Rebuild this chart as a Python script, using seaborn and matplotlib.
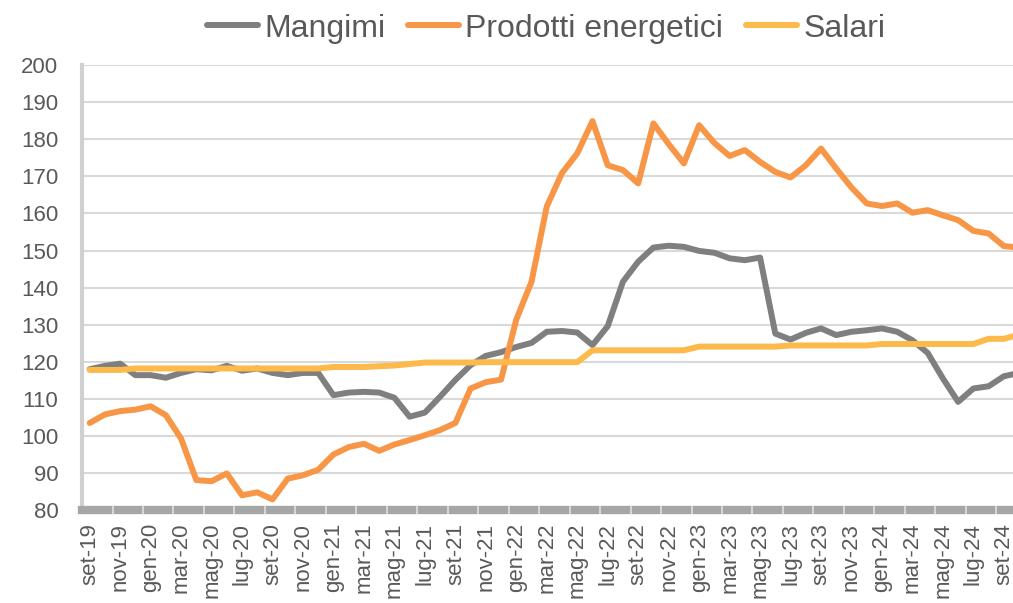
import numpy as np
import pandas as pd
import matplotlib
matplotlib.use("Agg")
import matplotlib.pyplot as plt
import seaborn as sns
from matplotlib.ticker import MultipleLocator

# months from set-19 to ott-24
mesi = ["gen", "feb", "mar", "apr", "mag", "giu", "lug", "ago", "set", "ott", "nov", "dic"]
months = [f"{mesi[(8 + k) % 12]}-{19 + (8 + k) // 12}" for k in range(62)]

mangimi = [118.0, 118.9, 119.5, 116.4, 116.4, 115.7, 117.0, 118.0, 117.7, 118.9,
           117.6, 118.2, 117.0, 116.4, 117.0, 117.0, 111.0, 111.7, 111.9, 111.7,
           110.3, 105.2, 106.3, 110.6, 115.1, 119.1, 121.6, 122.6, 124.0, 125.1,
           128.1, 128.3, 127.9, 124.5, 129.6, 141.6, 147.0, 150.8, 151.3, 151.0,
           149.9, 149.4, 147.9, 147.4, 148.1, 127.6, 126.0, 127.8, 129.0, 127.2,
           128.1, 128.5, 129.0, 128.1, 125.8, 122.4, 115.5, 109.2, 112.8, 113.4,
           116.1, 117.0]
energetici = [103.5, 105.8, 106.7, 107.1, 108.0, 105.6, 99.3, 88.1, 87.8, 89.9,
              84.0, 84.8, 82.9, 88.5, 89.4, 90.9, 95.0, 97.0, 97.9, 96.0,
              97.7, 98.9, 100.2, 101.6, 103.5, 112.8, 114.5, 115.2, 131.4, 141.6,
              161.9, 170.9, 176.2, 184.9, 173.0, 171.7, 168.1, 184.3, 178.7, 173.5,
              183.8, 179.0, 175.5, 177.1, 173.9, 171.2, 169.7, 173.0, 177.5, 172.1,
              167.0, 162.7, 162.0, 162.7, 160.2, 160.9, 159.5, 158.2, 155.3, 154.6,
              151.2, 150.8]
salari = [117.8, 117.8, 117.8, 118.2, 118.2, 118.2, 118.2, 118.2, 118.2, 118.2,
          118.2, 118.2, 118.2, 118.2, 118.2, 118.2, 118.6, 118.6, 118.6, 118.8,
          119.0, 119.4, 119.8, 119.8, 119.8, 119.8, 119.9, 119.9, 119.9, 119.9,
          119.9, 119.9, 119.9, 123.1, 123.1, 123.1, 123.1, 123.1, 123.1, 123.1,
          124.1, 124.1, 124.1, 124.1, 124.1, 124.1, 124.4, 124.4, 124.4, 124.4,
          124.4, 124.4, 124.8, 124.8, 124.8, 124.8, 124.8, 124.8, 124.8, 126.2,
          126.2, 127.3]

series_names = ["Mangimi", "Prodotti energetici", "Salari"]
colors = ["#7f7f7f", "#f79646", "#fdb94a"]

df = pd.DataFrame({"Mangimi": mangimi, "Prodotti energetici": energetici, "Salari": salari})
df["idx"] = np.arange(len(months))
long_df = df.melt(id_vars="idx", var_name="serie", value_name="valore")

sns.set_theme(style="white")
plt.rcParams["font.family"] = ["Liberation Sans", "DejaVu Sans"]

fig = plt.figure(figsize=(10.13, 6.03), dpi=100)
ax = fig.add_axes([0.081, 0.154, 0.919, 0.738])

sns.lineplot(data=long_df, x="idx", y="valore", hue="serie", hue_order=series_names,
             palette=colors, linewidth=4.3, sort=False, ax=ax, legend=False)

ax.yaxis.set_major_locator(MultipleLocator(10))
ax.grid(axis="y", color="#d9d9d9", linewidth=1.5)
ax.set_axisbelow(True)
ax.set_xlabel("")
ax.set_ylabel("")

tick_pos = np.arange(0, len(months), 2)
ax.set_xticks(tick_pos)
ax.set_xticklabels([months[i] for i in tick_pos], rotation=90)
ax.set_xticks(np.arange(1.5, len(months), 2), minor=True)
ax.tick_params(axis="x", which="major", length=0, pad=9, labelsize=16, labelcolor="#595959")
ax.tick_params(axis="x", which="minor", length=6, width=1.2, color="#e0e0e0",
               direction="inout", bottom=True)
ax.tick_params(axis="y", length=0, pad=17, labelsize=16, labelcolor="#595959")
ax.xaxis.set_zorder(4)

# limits after the ticks, since set_xticks widens the view
ax.set_ylim(80, 200)
ax.set_xlim(-0.5, 60.6)

for side in ["top", "right"]:
    ax.spines[side].set_visible(False)
ax.spines["left"].set_color("#d0d0d0")
ax.spines["left"].set_linewidth(3)
ax.spines["bottom"].set_color("#a6a6a6")
ax.spines["bottom"].set_linewidth(6)

handles = [plt.Line2D([0], [0], color=c, linewidth=4.3, solid_capstyle="round") for c in colors]
fig.legend(handles, series_names, loc="upper center", bbox_to_anchor=(0.539, 1.025), ncol=3,
           frameon=False, fontsize=23, handlelength=1.6, handletextpad=0.2, columnspacing=0.7,
           labelcolor="#595959")

fig.savefig("out.png", dpi=100)
